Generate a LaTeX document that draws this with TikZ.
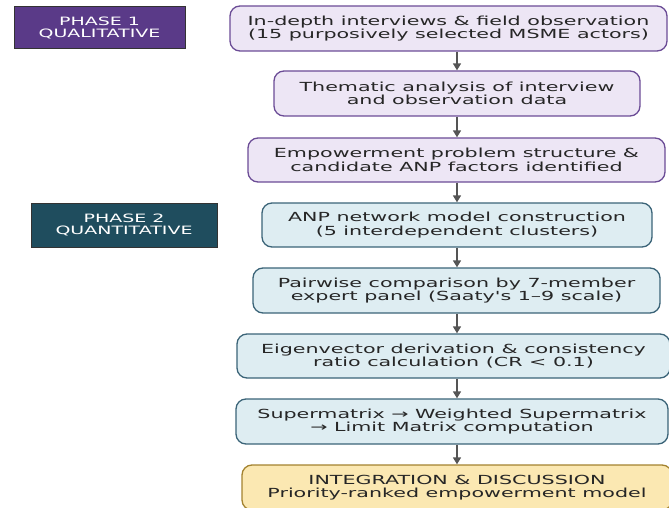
\documentclass[tikz,border=0pt]{standalone}
\usepackage{fontspec}
\setmainfont{DejaVu Sans}[FakeStretch=1.65, Ligatures=TeXOff]
\usetikzlibrary{arrows.meta}
\definecolor{qualfill}{HTML}{EDE6F5}
\definecolor{qualline}{HTML}{6B4C96}
\definecolor{quanfill}{HTML}{DEEDF2}
\definecolor{quanline}{HTML}{3B6478}
\definecolor{intfill}{HTML}{FBE8B2}
\definecolor{intline}{HTML}{A3822F}
\definecolor{phaseone}{HTML}{5A3A88}
\definecolor{phasetwo}{HTML}{1F4D5E}
\definecolor{arrowgray}{HTML}{555555}
\tikzset{
stepbox/.style={draw, rounded corners=10pt, line width=1.3pt, align=center,
  text=black!85, font=\fontsize{12.5}{13.5}\selectfont, inner sep=0pt,
  minimum height=45pt},
qualbox/.style={stepbox, fill=qualfill, draw=qualline},
quanbox/.style={stepbox, fill=quanfill, draw=quanline},
intbox/.style={stepbox, fill=intfill, draw=intline},
phasebox/.style={draw=black!80, line width=1pt, text=white, align=center,
  font=\fontsize{11.5}{12}\selectfont, inner sep=0pt},
flow/.style={-{Triangle[length=7pt,width=8pt]}, arrowgray, line width=1.5pt}
}
\begin{document}
\begin{tikzpicture}[x=1pt,y=-1pt]
\useasboundingbox (0,0) rectangle (669,508);
% phase labels
\node[phasebox, fill=phaseone, minimum width=171pt, minimum height=42pt] (p1) at (99.5,28) {PHASE 1\\QUALITATIVE};
\node[phasebox, fill=phasetwo, minimum width=186pt, minimum height=44pt] (p2) at (124,225) {PHASE 2\\QUANTITATIVE};
% qualitative steps
\node[qualbox, minimum width=437pt] (b1) at (448.5,28.5) {In-depth interviews \& field observation\\(15 purposively selected MSME actors)};
\node[qualbox, minimum width=366pt] (b2) at (457,93.5) {Thematic analysis of interview\\and observation data};
\node[qualbox, minimum width=417pt, minimum height=44pt] (b3) at (456.5,160) {Empowerment problem structure \&\\candidate ANP factors identified};
% quantitative steps
\node[quanbox, minimum width=390pt, minimum height=44pt] (b4) at (457,225) {ANP network model construction\\(5 interdependent clusters)};
\node[quanbox, minimum width=407pt] (b5) at (456.5,290.5) {Pairwise comparison by 7-member\\expert panel (Saaty's 1–9 scale)};
\node[quanbox, minimum width=433pt, minimum height=44pt] (b6) at (453.5,356) {Eigenvector derivation \& consistency\\ratio calculation (CR < 0.1)};
\node[quanbox, minimum width=432pt] (b7) at (452,421.5) {Supermatrix → Weighted Supermatrix\\→ Limit Matrix computation};
% integration
\node[intbox, minimum width=430pt] (b8) at (457,487.5) {INTEGRATION \& DISCUSSION\\Priority-ranked empowerment model};
% arrows
\foreach \a/\b in {b1/b2,b2/b3,b3/b4,b4/b5,b5/b6,b6/b7,b7/b8}
\draw[flow] (\a.south -| 457,0) -- (\b.north -| 457,0);
\end{tikzpicture}
\end{document}
